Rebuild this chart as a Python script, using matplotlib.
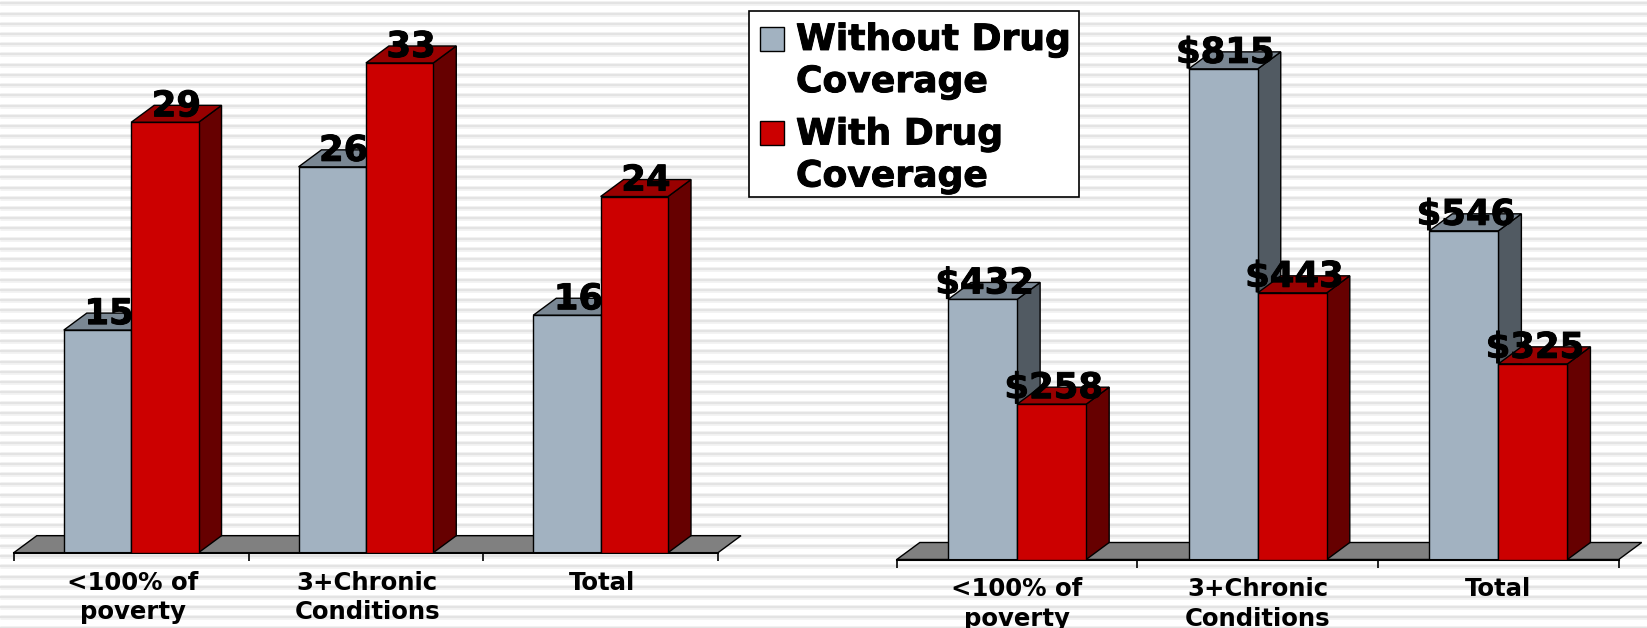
#!/usr/bin/env python3
# -*- coding: utf-8 -*-
# %% initial imports
import numpy as np
import matplotlib
matplotlib.use('Agg')
import matplotlib.pyplot as plt
import matplotlib.patheffects as pe
from matplotlib.patches import Polygon, Rectangle

plt.rcParams['font.family'] = ['DejaVu Sans']
plt.rcParams['font.weight'] = 'bold'

# %% data
categories = ['<100% of\npoverty', '3+Chronic\nConditions', 'Total']
series_names = ['Without Drug\nCoverage', 'With Drug\nCoverage']

left_without = [15, 26, 16]
left_with = [29, 33, 24]
right_without = [432, 815, 546]
right_with = [258, 443, 325]

# %% layout, everything in pixels of the 1647x628 picture
W, H = 1647, 628
DEPTH_X, DEPTH_Y = 23, 17
BAR_W = 0.287
PX = 72 / 100  # pixels to points at dpi=100

GRAY = '#a2b2c1'
GRAY_TOP = '#7a8793'
GRAY_SIDE = '#515a62'
RED = '#cc0000'
RED_TOP = '#990000'
RED_SIDE = '#660000'
FLOOR = '#808080'

# thickens the bold a little, the original face is heavier
HEAVY = [pe.withStroke(linewidth=0.7, foreground='k')]


def make_axes(x0, x1, base_y, ymax, label_shift):
    ax = fig.add_axes([x0 / W, (H - base_y) / H, (x1 - x0) / W, base_y / H])
    ax.patch.set_visible(False)
    ax.set_xlim(0, 3)
    ax.set_ylim(0, ymax)
    for s in ['top', 'left', 'right']:
        ax.spines[s].set_visible(False)
    ax.spines['bottom'].set_linewidth(1.5)
    ax.set_yticks([])
    ax.set_xticks([0, 1, 2, 3])
    ax.set_xticklabels([])
    ax.tick_params(axis='x', which='major', length=8 * PX, width=1.2)
    ax.set_xticks(np.arange(3) + 0.5 + label_shift, minor=True)
    ax.set_xticklabels(categories, minor=True, fontsize=17.6, fontweight='bold', linespacing=1.3)
    ax.tick_params(axis='x', which='minor', length=0, pad=18 * PX)
    return ax


def draw_bars(ax, vals, offset, color, top, side, prefix, label_dx, z):
    # one series: front from ax.bar, fake 3D top and side as polygons
    bbox = ax.get_position()
    dx = DEPTH_X / (bbox.width * W / 3)
    dy = DEPTH_Y * ax.get_ylim()[1] / (bbox.height * H)
    xs = np.arange(3) + 0.5 + offset
    ax.bar(xs, vals, BAR_W, color=color, edgecolor='k', linewidth=1.0, zorder=z + 0.2)
    for x, v in zip(xs, vals):
        l, r = x - BAR_W / 2, x + BAR_W / 2
        ax.add_patch(Polygon([(r, 0), (r + dx, dy), (r + dx, v + dy), (r, v)],
                             fc=side, ec='k', lw=1.0, zorder=z, clip_on=False))
        ax.add_patch(Polygon([(l, v), (l + dx, v + dy), (r + dx, v + dy), (r, v)],
                             fc=top, ec='k', lw=1.0, zorder=z, clip_on=False))
        ax.annotate(prefix + str(v), xy=(x, v), xytext=(label_dx * PX, 16 * PX),
                    textcoords='offset points', ha='center', va='center',
                    fontsize=25.5, fontweight='bold', color='k', zorder=z + 0.5,
                    annotation_clip=False, path_effects=HEAVY)


def draw_floor(ax):
    bbox = ax.get_position()
    dx = DEPTH_X / (bbox.width * W / 3)
    dy = DEPTH_Y * ax.get_ylim()[1] / (bbox.height * H)
    ax.add_patch(Polygon([(0, 0), (dx, dy), (3 + dx, dy), (3, 0)],
                         fc=FLOOR, ec='k', lw=1.0, zorder=1, clip_on=False))


# %% plotting
fig = plt.figure(figsize=(W / 100, H / 100), dpi=100, facecolor='white')

# striped background
bg = fig.add_axes([0, 0, 1, 1], zorder=-1)
bg.set_xlim(0, W)
bg.set_ylim(H, 0)
bg.axis('off')
stripes = np.arange(3.3, H, 10.236)
bg.hlines(stripes, 0, W, color='#f3f3f3', linewidth=5 * PX)
bg.hlines(stripes, 0, W, color='#e3e3e3', linewidth=2.2 * PX)

ax_l = make_axes(13.8, 718, 552.7, 552.7 / 14.84, 0.006)
ax_r = make_axes(896.8, 1618.7, 559.5, 559.5 / 0.602, 0)

for ax, a, b, prefix, ldx in [(ax_l, left_without, left_with, '', 11.5),
                              (ax_r, right_without, right_with, '$', 2)]:
    draw_floor(ax)
    draw_bars(ax, a, -BAR_W / 2, GRAY, GRAY_TOP, GRAY_SIDE, prefix, ldx, 2)
    draw_bars(ax, b, BAR_W / 2, RED, RED_TOP, RED_SIDE, prefix, ldx, 4)

# legend box, drawn by hand so the swatch sits at the first line
lg = fig.add_axes([0, 0, 1, 1], zorder=5)
lg.set_xlim(0, W)
lg.set_ylim(H, 0)
lg.axis('off')
lg.add_patch(Rectangle((749, 11), 330, 186, fc='white', ec='k', lw=1.2))
for name, color, sw_y, text_y in [(series_names[0], GRAY, 27, 61), (series_names[1], RED, 120.5, 155.5)]:
    lg.add_patch(Rectangle((760, sw_y), 24, 24, fc=color, ec='k', lw=1.0))
    lg.text(796, text_y, name, ha='left', va='center', fontsize=26, fontweight='bold',
            color='k', linespacing=1.3, path_effects=HEAVY)

# %% saving
fig.savefig('out.png', dpi=100)
